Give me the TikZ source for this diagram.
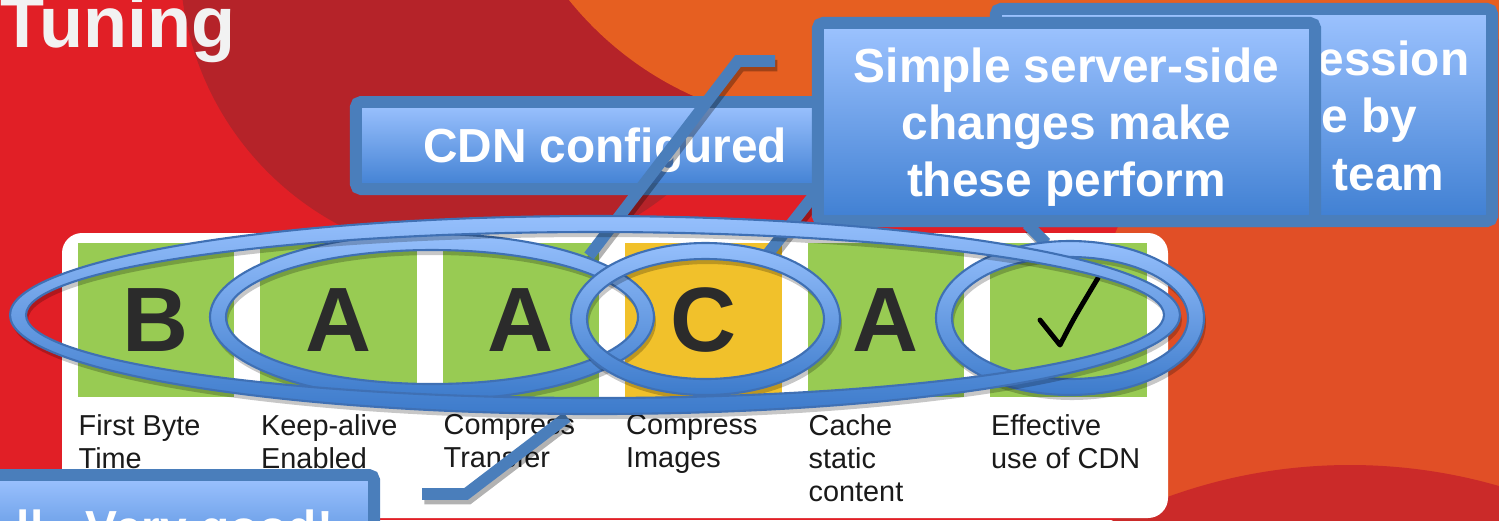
\documentclass[tikz,border=0pt]{standalone}
\usepackage{fontspec}
\setmainfont{Liberation Sans}
\usetikzlibrary{calc,shadows}

\definecolor{bgred}{HTML}{E11F26}
\definecolor{bgdark}{HTML}{B52329}
\definecolor{bgorange}{HTML}{E65F21}
\definecolor{bgamber}{HTML}{E14F26}
\definecolor{bgdeep}{HTML}{CB2A29}
\definecolor{titlegray}{HTML}{F2F2F2}
\definecolor{gradegreen}{HTML}{98CB53}
\definecolor{gradeyellow}{HTML}{F1C12B}
\definecolor{gradeink}{HTML}{2B2B2B}
\definecolor{labelink}{HTML}{1A1A1A}
\definecolor{boxedge}{HTML}{4A7EBB}
\definecolor{boxtop}{HTML}{9DC3FF}
\definecolor{boxbot}{HTML}{3F7FD2}
\definecolor{ringtop}{HTML}{95BFFC}
\definecolor{ringbot}{HTML}{3D7BCB}
\definecolor{ringedge}{HTML}{3F70B4}

% blue hoop: centre, x radius, y radius
\newcommand{\hoop}[3]{%
  \fill[black,opacity=.22,even odd rule] ($(#1)+(2,5)$) ellipse [x radius={#2+8}, y radius={#3+8}] ($(#1)+(2,5)$) ellipse [x radius={#2-8}, y radius={#3-8}];
  \shade[top color=ringtop,bottom color=ringbot,even odd rule] (#1) ellipse [x radius={#2+8}, y radius={#3+8}] (#1) ellipse [x radius={#2-8}, y radius={#3-8}];
  \draw[ringedge,line width=.6pt] (#1) ellipse [x radius={#2+8}, y radius={#3+8}] (#1) ellipse [x radius={#2-8}, y radius={#3-8}];
}

\begin{document}
\begin{tikzpicture}[x=0.01cm, y=-0.01cm,
  callout/.style={draw=boxedge, line width=3.4pt, rounded corners=1.5pt, top color=boxtop, bottom color=boxbot,
    text=white, font=\bfseries\fontsize{13.6}{16.2}\selectfont, align=center, inner sep=0pt, text depth=0pt,
    drop shadow={opacity=.35, shadow xshift=.8pt, shadow yshift=-1.4pt}},
  bluetext/.style={text=white, font=\bfseries\fontsize{13.6}{16.2}\selectfont, inner sep=0pt},
  leader/.style={draw=boxedge, line width=3.3pt, line join=miter,
    preaction={draw=black, line width=3.3pt, opacity=.3, transform canvas={shift={(.7pt,-1.3pt)}}}},
  gradebox/.style={minimum width=1.56cm, minimum height=1.54cm, inner sep=0pt, text=gradeink, text depth=0pt,
    font=\bfseries\fontsize{26}{30}\selectfont},
  gradelabel/.style={anchor=north west, inner sep=0pt, align=left, text=labelink, font=\fontsize{8.2}{9.4}\selectfont}]
\useasboundingbox (0,0) rectangle (1499,520);
\clip (0,0) rectangle (1499,520);

% slide background
\fill[bgred] (0,0) rectangle (1499,520);
\fill[bgdark] (480,-40) circle (300);
\fill[bgorange] (830,-210) circle (335);
\fill[bgorange] (1250,-160) circle (340);
\fill[bgamber] (1420,360) circle (330);
\fill[bgdeep] (1350,1000) circle (535);

\node[anchor=base west, inner sep=0pt, text=titlegray, font=\bfseries\fontsize{20.5}{24}\selectfont] (title) at (0,47) {Tuning};

% report card
\fill[white, rounded corners=5.7pt] (62,233) rectangle (1168,518);
\foreach \i/\g/\c in {0/B/gradegreen, 1/A/gradegreen, 2/A/gradegreen, 3/C/gradeyellow, 4/A/gradegreen, 5//gradegreen}
  \node[gradebox, fill=\c] (g\i) at ({156+182.5*\i},320) {\g};
\draw[black, line width=1.4pt, line cap=round, line join=round] (1040,320) -- (1060,345) .. controls (1074,318) .. (1098,278);
\foreach \i/\txt in {0/{First Byte\\Time}, 1/{Keep-alive\\Enabled}, 2/{Compress\\Transfer},
    3/{Compress\\Images}, 4/{Cache\\static\\content}, 5/{Effective\\use of CDN}}
  \node[gradelabel] (l\i) at ({78+182.5*\i},414) {\txt};

% callouts
\node[callout, minimum width=4.96cm, minimum height=2.12cm] (ops) at (1244,115) {};
\node[bluetext, anchor=base east] (opsA) at (1470,75) {ession};
\node[bluetext, anchor=base east] (opsB) at (1418,132) {e by};
\node[bluetext, anchor=base east] (opsC) at (1445,190) {team};
\coordinate (opsFoot) at (1027,224);
\coordinate (opsTip) at (1046,243);
\draw[leader] (opsFoot) -- (opsTip);

\node[callout, minimum width=4.98cm, minimum height=0.87cm] (cdn) at (605,145.5) {CDN configured};

\coordinate (srvFoot) at (818,190);
\coordinate (srvTip) at (763,260);
\draw[leader] (srvFoot) -- (srvTip);
\node[callout, minimum width=4.97cm, minimum height=1.98cm] (srv) at (1066.5,122) {Simple server-side\\changes make\\these perform};

\coordinate (cdnEnd) at (775,61);
\coordinate (cdnKnee) at (738,61);
\coordinate (cdnTip) at (589,256);
\draw[leader] (cdnEnd) -- (cdnKnee) -- (cdnTip);

\node[callout, minimum width=3.98cm, minimum height=1.05cm] (verdict) at (175,527.5) {ll - Very good!};
\coordinate (verdictEnd) at (422,494);
\coordinate (verdictKnee) at (466,494);
\coordinate (verdictTip) at (567,417);
\draw[leader] (verdictEnd) -- (verdictKnee) -- (verdictTip);

% hoops round the grades
\hoop{432,317}{214}{75}
\hoop{705.5,319}{126.5}{68}
\hoop{1070,318}{126}{69}
\hoop{595,315}{577}{91}
\end{tikzpicture}
\end{document}
